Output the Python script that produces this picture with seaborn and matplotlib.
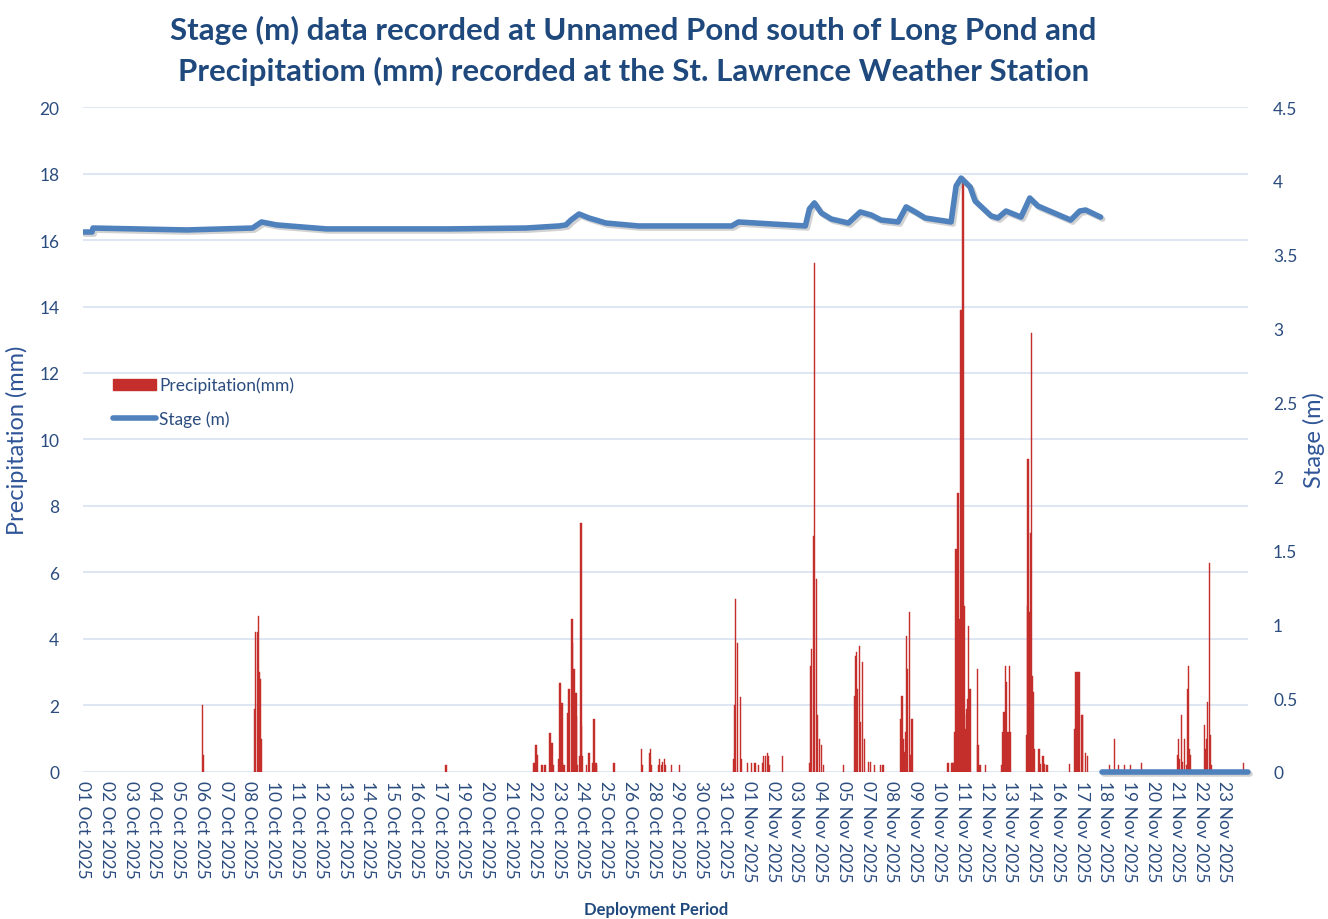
import numpy as np
import matplotlib
matplotlib.use("Agg")
import matplotlib.pyplot as plt
import matplotlib.patheffects as pe
from matplotlib.lines import Line2D
from matplotlib.patches import Patch
import seaborn as sns

# tick labels of the category axis (Excel skips a few days)
tick_labels = (
    [f"{d:02d} Oct 2025" for d in [1, 2, 3, 4, 5, 6, 7, 8, 10, 11, 12, 13, 14, 15, 16, 17,
                                   19, 20, 21, 22, 23, 24, 25, 26, 28, 29, 30, 31]]
    + [f"{d:02d} Nov 2025" for d in [1, 2, 3, 4, 5, 7, 8, 9, 10, 11, 12, 13, 14,
                                     16, 17, 18, 19, 20, 21, 22, 23]]
)

# precipitation readings: position in tick-slot units, value in mm
precip_pos = [
    5.04, 5.08,
    7.22, 7.26, 7.34, 7.39, 7.43, 7.47, 7.51,
    15.27,
    18.97, 19.05, 19.09, 19.30, 19.43, 19.64, 19.72, 19.77, 20.02, 20.06, 20.10, 20.14,
    20.18, 20.23, 20.39, 20.44, 20.56, 20.60, 20.65, 20.73, 20.77, 20.81, 20.90, 20.94,
    20.98, 21.02, 21.19, 21.28, 21.44, 21.49, 21.57, 21.61, 22.33,
    23.50, 23.54, 23.84, 23.88, 23.92, 24.21, 24.26, 24.34, 24.38, 24.47, 24.51, 24.76, 25.09,
    27.36, 27.40, 27.44, 27.53, 27.65, 27.70, 27.95, 28.12, 28.24, 28.28, 28.41, 28.58,
    28.62, 28.70, 28.79, 28.83, 28.87, 29.42,
    30.55, 30.59, 30.63, 30.72, 30.76, 30.84, 30.89, 30.97, 31.05, 31.14, 31.98,
    32.44, 32.48, 32.52, 32.56, 32.65, 32.69, 32.77, 32.86, 33.03, 33.11, 33.28, 33.53, 33.65,
    34.41, 34.45, 34.49, 34.56, 34.60, 34.64, 34.68, 34.75, 34.79, 34.83, 34.87,
    36.38, 36.55, 36.59, 36.68, 36.72, 36.76, 36.80, 36.87, 36.93, 37.01, 37.05, 37.08,
    37.12, 37.17, 37.21, 37.25, 37.31, 37.61, 37.64, 37.72, 37.95,
    38.62, 38.68, 38.73, 38.79, 38.85, 38.90, 38.96, 39.00,
    39.67, 39.71, 39.75, 39.79, 39.84, 39.88, 39.92, 39.96, 40.02, 40.21, 40.27, 40.38,
    40.44, 40.54,
    41.49, 41.70, 41.77, 41.84, 41.88, 41.92, 42.01, 42.05, 42.17, 42.26,
    43.18, 43.39, 43.56, 43.81, 44.06, 44.52,
    46.03, 46.08, 46.12, 46.20, 46.24, 46.33, 46.41, 46.45, 46.50, 46.54, 46.58,
    47.17, 47.21, 47.25, 47.29, 47.38, 47.42, 47.46, 48.80,
]
precip_mm = [
    2.0, 0.5,
    1.9, 4.2, 4.2, 4.7, 3.0, 2.8, 1.0,
    0.2,
    0.27, 0.8, 0.5, 0.2, 0.2, 1.17, 0.87, 0.2, 0.39, 2.68, 0.87, 2.08,
    0.27, 0.2, 1.78, 2.49, 4.6, 3.88, 3.09, 2.38, 1.67, 0.2, 0.47, 7.49,
    1.37, 0.47, 0.2, 0.57, 0.27, 1.59, 0.27, 0.2, 0.27,
    0.69, 0.2, 0.57, 0.69, 0.2, 0.2, 0.39, 0.2, 0.3, 0.39, 0.2, 0.2, 0.2,
    0.39, 2.0, 5.2, 3.88, 2.27, 0.39, 0.27, 0.27, 0.27, 0.27, 0.2, 0.27,
    0.47, 0.47, 0.57, 0.47, 0.2, 0.47,
    0.27, 3.2, 3.7, 7.1, 15.3, 5.8, 1.7, 1.0, 0.8, 0.2, 0.2,
    2.3, 3.5, 3.6, 2.5, 3.8, 1.5, 3.3, 1.0, 0.3, 0.3, 0.2, 0.2, 0.2,
    1.6, 2.3, 1.0, 0.6, 1.2, 4.1, 3.1, 4.8, 0.5, 0.3, 1.6,
    0.26, 0.26, 0.26, 1.2, 6.7, 3.1, 8.4, 4.6, 13.9, 17.9, 5.0, 1.7,
    1.3, 1.9, 2.2, 4.4, 2.5, 3.1, 0.8, 0.2, 0.2,
    0.2, 1.2, 1.8, 3.2, 2.7, 1.2, 3.2, 1.2,
    1.1, 5.0, 9.4, 4.8, 7.2, 13.2, 2.9, 2.4, 0.7, 0.7, 0.24, 0.48,
    0.24, 0.2,
    0.24, 1.3, 3.0, 3.0, 3.0, 3.0, 1.7, 1.7, 0.57, 0.47,
    0.2, 1.0, 0.2, 0.2, 0.2, 0.28,
    0.5, 1.0, 0.4, 1.7, 0.3, 1.0, 0.2, 2.5, 3.2, 0.7, 0.5,
    1.4, 0.7, 1.0, 2.1, 6.3, 1.1, 0.2, 0.28,
]

# stage readings (m)
stage_pos = [
    0.0, 0.38, 0.42, 4.36, 7.13, 7.51, 8.14, 10.24, 15.4, 18.63, 20.02, 20.31, 20.52,
    20.86, 21.28, 21.99, 23.37, 27.28, 27.57, 30.38, 30.55, 30.76, 31.05, 31.47, 32.19,
    32.69, 33.15, 33.57, 34.28, 34.62, 35.00, 35.42, 36.51, 36.72, 36.93, 37.31, 37.52,
    38.19, 38.48, 38.82, 39.45, 39.82, 40.16, 41.54, 41.92, 42.17, 42.80,
]
stage_m = [
    3.654, 3.654, 3.681, 3.668, 3.681, 3.722, 3.702, 3.675, 3.675, 3.681, 3.695, 3.702, 3.735,
    3.776, 3.749, 3.715, 3.695, 3.695, 3.722, 3.695, 3.810, 3.851, 3.783, 3.742, 3.715,
    3.790, 3.769, 3.735, 3.722, 3.824, 3.790, 3.749, 3.722, 3.965, 4.019, 3.959, 3.864,
    3.763, 3.749, 3.796, 3.755, 3.884, 3.830, 3.735, 3.796, 3.803, 3.755,
]
# logger removed: stage recorded as zero afterwards
stage_zero_pos = [42.85, 49.0]
stage_zero_m = [0.0, 0.0]

TITLE_BLUE = "#1F497D"
TICK_BLUE = "#2B4C7E"
LABEL_BLUE = "#2F5597"
BAR_RED = "#C42F2B"
LINE_BLUE = "#4F81BD"
GRID = "#D9E2F1"

sns.set_style("white")
plt.rcParams["font.family"] = ["Lato", "DejaVu Sans"]

fig = plt.figure(figsize=(13.28, 9.2), dpi=100)
ax = fig.add_axes([0.0625, 0.1598, 0.8773, 0.7228])
ax2 = ax.twinx()

ax.bar(precip_pos, precip_mm, width=0.055, color=BAR_RED, edgecolor=BAR_RED,
       linewidth=0.3, align="center", zorder=3)

shadow = [pe.SimpleLineShadow(offset=(1.5, -1.5), shadow_color="#7f7f7f", alpha=0.35),
          pe.Normal()]
sns.lineplot(x=stage_pos, y=stage_m, ax=ax2, color=LINE_BLUE, linewidth=4.0,
             solid_capstyle="round", solid_joinstyle="round", path_effects=shadow)
sns.lineplot(x=stage_zero_pos, y=stage_zero_m, ax=ax2, color=LINE_BLUE, linewidth=4.0,
             solid_capstyle="round", clip_on=False, path_effects=shadow)

ax.set_xlim(0, 49)
ax.set_ylim(0, 20)
ax.set_yticks(np.arange(0, 21, 2))
ax2.set_ylim(0, 4.5)
ax2.set_yticks(np.arange(0, 4.51, 0.5))
ax2.set_yticklabels(["0", "0.5", "1", "1.5", "2", "2.5", "3", "3.5", "4", "4.5"])

ax.set_xticks(range(len(tick_labels)))
ax.set_xticklabels(tick_labels, rotation=-90, va="top", ha="center")

ax.grid(axis="y", color=GRID, linewidth=1.2, zorder=0)
ax.set_axisbelow(True)
for a in (ax, ax2):
    for s in a.spines.values():
        s.set_visible(False)
    a.tick_params(length=0, colors=TICK_BLUE, labelsize=12.5)
ax.tick_params(axis="y", pad=17)
ax2.tick_params(axis="y", pad=18)
ax.tick_params(axis="x", pad=6)

ax.set_ylabel("Precipitation (mm)", color=LABEL_BLUE, fontsize=17, labelpad=8)
ax2.set_ylabel("Stage (m)", color=LABEL_BLUE, fontsize=17, labelpad=4)
ax.set_xlabel("")
ax2.set_xlabel("")

fig.text(0.477, 0.967, "Stage (m) data recorded at Unnamed Pond south of Long Pond and",
         ha="center", va="center", fontsize=22.5, fontweight="bold", color=TITLE_BLUE)
fig.text(0.477, 0.922, "Precipitatiom (mm) recorded at the St. Lawrence Weather Station",
         ha="center", va="center", fontsize=22.5, fontweight="bold", color=TITLE_BLUE)
fig.text(0.494, 0.002, "Deployment Period", ha="center", va="bottom",
         fontsize=12, fontweight="bold", color=TITLE_BLUE)

handles = [Patch(facecolor=BAR_RED, edgecolor=BAR_RED),
           Line2D([0], [0], color=LINE_BLUE, linewidth=4.0, solid_capstyle="round")]
ax2.legend(handles, ["Precipitation(mm)", "Stage (m)"], loc="upper left",
           bbox_to_anchor=(0.012, 0.618), frameon=False, fontsize=12.5,
           handlelength=2.5, handleheight=0.6, handletextpad=0.2, labelspacing=1.0,
           labelcolor=TICK_BLUE)

fig.savefig("out.png", dpi=100)
